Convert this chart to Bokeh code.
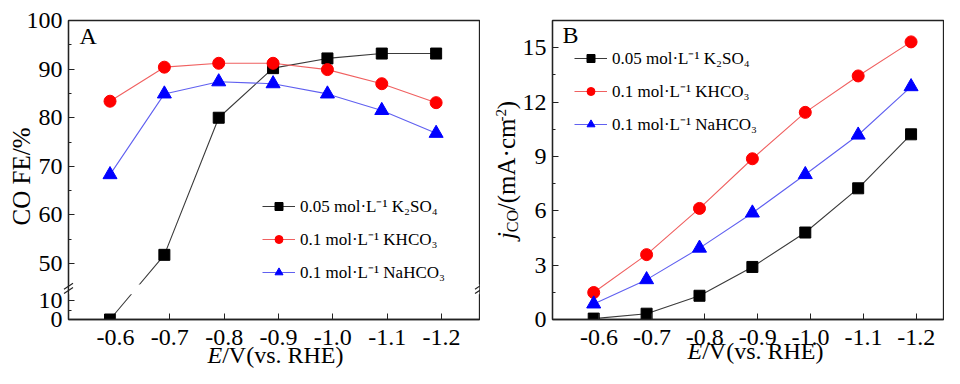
import math
from bokeh.plotting import figure
from bokeh.models import Range1d, FixedTicker, CustomJSTickFormatter, Legend, LegendItem
from bokeh.core.properties import value
from bokeh.layouts import row
from bokeh.embed import file_html
from bokeh.resources import INLINE

# ---------------- data ----------------
potential = [-0.59, -0.69, -0.79, -0.89, -0.99, -1.09, -1.19]
x_ticks = [-0.6, -0.7, -0.8, -0.9, -1.0, -1.1, -1.2]
x_tick_labels = ["-0.6", "-0.7", "-0.8", "-0.9", "-1.0", "-1.1", "-1.2"]
series_names = ["0.05 mol·L⁻¹ K₂SO₄", "0.1 mol·L⁻¹ KHCO₃", "0.1 mol·L⁻¹ NaHCO₃"]

fe_k2so4 = [0.0, 51.8, 80.0, 90.2, 92.2, 93.2, 93.2]
fe_khco3 = [83.4, 90.4, 91.2, 91.2, 89.9, 87.0, 83.1]
fe_nahco3 = [68.3, 84.9, 87.4, 87.0, 84.9, 81.5, 76.8]

j_k2so4 = [0.05, 0.32, 1.31, 2.90, 4.80, 7.24, 10.22]
j_khco3 = [1.49, 3.58, 6.13, 8.87, 11.43, 13.44, 15.32]
j_nahco3 = [0.86, 2.20, 3.94, 5.88, 8.00, 10.18, 12.85]

fe_ticks_low = [0, 10]
fe_minor_low = [5]
fe_ticks_high = [50, 60, 70, 80, 90, 100]
fe_minor_high = [55, 65, 75, 85, 95]
j_ticks = [0, 3, 6, 9, 12, 15]
j_minor = [1.5, 4.5, 7.5, 10.5, 13.5, 16.5]

# ---------------- styles ----------------
FONT = "Liberation Serif"
AX = "#222222"
TICK_SIZE = 24
marker_fill = ["black", "red", "blue"]
line_cols = ["#3a3a3a", "#f06060", "#6060f0"]
markers = ["square", "circle", "triangle"]
msizes = [11, 12, 14]

# broken axis (panel A): values below the break are compressed
LOW_BASE = 38.5
LOW_SCALE = 0.385
BREAK_Y = 44.9
GAP = (43.7, 45.7)


def fe_axis(v):
    return v if v >= 45 else LOW_BASE + v * LOW_SCALE


H = 368


def make_fig(width, xr, yr, bl, br, bt, bb):
    p = figure(width=width, height=H, x_range=Range1d(*xr), y_range=Range1d(*yr),
               output_backend="svg", toolbar_location=None,
               min_border_left=bl, min_border_right=br, min_border_top=bt, min_border_bottom=bb)
    p.grid.visible = False
    p.outline_line_color = AX
    p.outline_line_width = 1.3
    p.background_fill_color = "white"
    p.border_fill_color = "white"
    for ax in (p.xaxis[0], p.yaxis[0]):
        ax.axis_line_color = AX
        ax.axis_line_width = 1.3
        ax.major_tick_line_color = AX
        ax.minor_tick_line_color = AX
        ax.major_tick_in = 6
        ax.major_tick_out = 0
        ax.minor_tick_in = 3
        ax.minor_tick_out = 0
        # tick labels are drawn below as serif text glyphs
        ax.formatter = CustomJSTickFormatter(code="return ''")
        ax.major_label_standoff = 0
    p.xaxis[0].ticker = FixedTicker(ticks=x_ticks, minor_ticks=[])
    return p


def px_x(xr, fw, px):
    return xr[0] + px * (xr[1] - xr[0]) / fw


def px_y(yr, fh, px):
    return yr[0] + px * (yr[1] - yr[0]) / fh


def style_legend(lg):
    lg.background_fill_alpha = 0
    lg.border_line_color = None
    lg.padding = 0
    lg.margin = 0
    lg.spacing = 10
    lg.glyph_width = 33
    lg.glyph_height = 20
    lg.label_height = 20
    lg.label_standoff = 5
    lg.label_text_font = FONT
    lg.label_text_font_size = "17px"
    lg.label_text_color = "black"


def text_label(p, x, y, text, size, style="normal", angle=0.0, align="left"):
    p.text(x=x if isinstance(x, list) else [x], y=y if isinstance(y, list) else [y],
           text=text if isinstance(text, list) else [text],
           text_font=value(FONT), text_font_size=f"{size}px",
           text_font_style=style, angle=angle, text_align=align,
           text_baseline="middle", text_color="black", level="overlay")


def tick_labels(p, xr, fw, yr, fh, y_ticks, y_labels, x_center_px):
    yb = px_y(yr, fh, x_center_px)
    text_label(p, list(x_ticks), [yb] * len(x_ticks), list(x_tick_labels), TICK_SIZE, align="center")
    xl = px_x(xr, fw, -6)
    text_label(p, [xl] * len(y_ticks), list(y_ticks), list(y_labels), TICK_SIZE, align="right")


def xlabel(p, xr, fw, yr, fh, center_px, mid_px):
    size = 24
    w_e = 0.611 * size
    w_rest = 5.055 * size
    start = center_px - (w_e + w_rest) / 2
    y = px_y(yr, fh, mid_px)
    text_label(p, px_x(xr, fw, start), y, "E", size, "italic")
    text_label(p, px_x(xr, fw, start + w_e), y, "/V(vs. RHE)", size)


def add_series(p, ys_list, gap=None):
    lines = []
    for i, ys in enumerate(ys_list):
        lines.append(p.line(potential, ys, line_color=line_cols[i], line_width=1.1))
    if gap is not None:
        xr = (p.x_range.start, p.x_range.end)
        p.quad(left=[xr[0]], right=[xr[1]], bottom=[gap[0]], top=[gap[1]],
               fill_color="white", line_color=None)
    items = []
    for i, ys in enumerate(ys_list):
        sr = p.scatter(potential, ys, marker=markers[i], size=msizes[i],
                       fill_color=marker_fill[i], line_color=marker_fill[i])
        items.append(LegendItem(label=series_names[i], renderers=[lines[i], sr]))
    return items


# ---------------- panel A ----------------
WA, BLA, BRA, BTA, BBA = 480, 68, 1, 20, 49
FWA, FHA = WA - BLA - BRA, H - BTA - BBA
xrA = (-0.5136, -1.2698)
yrA = (LOW_BASE, 100)
pA = make_fig(WA, xrA, yrA, BLA, BRA, BTA, BBA)

ticksA = [fe_axis(v) for v in fe_ticks_low] + fe_ticks_high
minorA = [fe_axis(v) for v in fe_minor_low] + fe_minor_high
pA.yaxis[0].ticker = FixedTicker(ticks=ticksA, minor_ticks=minorA)
tick_labels(pA, xrA, FWA, yrA, FHA, ticksA, [str(v) for v in fe_ticks_low + fe_ticks_high], -18)

fe_all = [[fe_axis(v) for v in s] for s in (fe_k2so4, fe_khco3, fe_nahco3)]
legA = Legend(items=add_series(pA, fe_all, gap=GAP), location=(194, 36))
style_legend(legA)
pA.add_layout(legA)

# break marks on both vertical borders
dx = 4.5 * (xrA[1] - xrA[0]) / FWA
dy = 3.0 * (yrA[1] - yrA[0]) / FHA
off = 2.2 * (yrA[1] - yrA[0]) / FHA
bx, by, ex, ey = [], [], [], []
for xb in (xrA[0], xrA[1]):
    for o in (-off, off):
        bx.append(xb - dx); by.append(BREAK_Y + o - dy)
        ex.append(xb + dx); ey.append(BREAK_Y + o + dy)
pA.segment(x0=bx, y0=by, x1=ex, y1=ey, line_color=AX, line_width=1.2, level="overlay")

text_label(pA, px_x(xrA, FWA, -47), px_y(yrA, FHA, 143), "CO FE/%", 25,
           angle=math.pi / 2, align="center")
xlabel(pA, xrA, FWA, yrA, FHA, 207, -35)
text_label(pA, px_x(xrA, FWA, 11), px_y(yrA, FHA, FHA - 15), "A", 24)

# ---------------- panel B ----------------
WB, BLB, BRB, BTB, BBB = 464, 72, 1, 20, 46
FWB, FHB = WB - BLB - BRB, H - BTB - BBB
xrB = (-0.5121, -1.2513)
yrB = (0, 16.5)
pB = make_fig(WB, xrB, yrB, BLB, BRB, BTB, BBB)
pB.yaxis[0].ticker = FixedTicker(ticks=j_ticks, minor_ticks=j_minor)
tick_labels(pB, xrB, FWB, yrB, FHB, j_ticks, [str(v) for v in j_ticks], -18)

legB = Legend(items=add_series(pB, [j_k2so4, j_khco3, j_nahco3]), location=(22, 184))
style_legend(legB)
pB.add_layout(legB)

xlabel(pB, xrB, FWB, yrB, FHB, 203, -32)
text_label(pB, px_x(xrB, FWB, 10), px_y(yrB, FHB, FHB - 15), "B", 24)

# y label of B: j_CO/(mA·cm^-2), rotated, built from pieces
pieces = [("j", 25, "italic", 0, 0.278), ("CO", 16, "normal", 6, 1.389),
          ("/(mA·cm", 25, "normal", 0, 3.583), ("-2", 15, "normal", -6, 0.833),
          (")", 25, "normal", 0, 0.333)]
total = sum(sz * w for _, sz, _, _, w in pieces)
pos = FHB / 2 - total / 2
mid_x = -46
for txt, sz, style, shift, w in pieces:
    text_label(pB, px_x(xrB, FWB, mid_x + shift), px_y(yrB, FHB, pos), txt, sz, style,
               angle=math.pi / 2)
    pos += sz * w

layout = row(pA, pB)
open("out.html", "w").write(file_html(layout, INLINE))
